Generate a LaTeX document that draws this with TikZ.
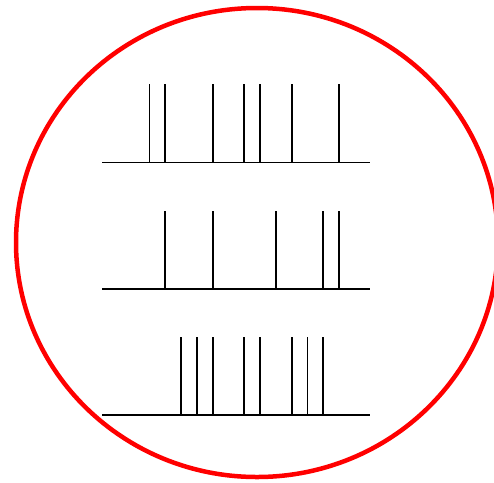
\documentclass[tikz,border=0pt]{standalone}
\begin{document}
\begin{tikzpicture}[x=1pt,y=-1pt,
  ring/.style={draw=red,line width=4.5pt},
  baseline/.style={draw=black,line width=1.8pt},
  spike/.style={draw=black,line width=1.8pt}]
\useasboundingbox (0,0) rectangle (494,482);
\begin{scope}
\clip (0,0) rectangle (494,482);
\draw[ring] (257,242.5) ellipse [x radius=241, y radius=234.5];
\end{scope}
\def\u{15.8}
% row 1
\draw[baseline] (102,162.5) -- (370.3,162.5);
\foreach \k in {3,4,7,9,10,12,15}
  \draw[spike] (102+\k*\u,162.5) -- (102+\k*\u,84);
% row 2
\draw[baseline] (102,288.7) -- (370.3,288.7);
\foreach \k in {4,7,11,14,15}
  \draw[spike] (102+\k*\u,288.7) -- (102+\k*\u,210.7);
% row 3
\draw[baseline] (102,415.3) -- (370.3,415.3);
\foreach \k in {5,6,7,9,10,12,13,14}
  \draw[spike] (102+\k*\u,415.3) -- (102+\k*\u,337.3);
\end{tikzpicture}
\end{document}
